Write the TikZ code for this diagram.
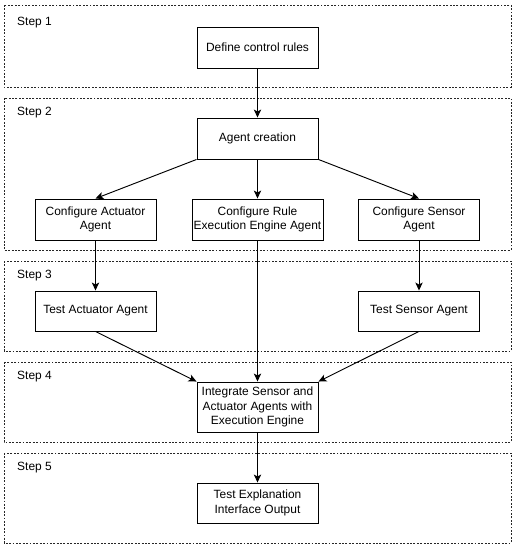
\documentclass[tikz,border=0pt]{standalone}
\usepackage{fontspec}
\setmainfont{Liberation Sans}
\usepackage{tikz}
\usetikzlibrary{arrows.meta}

\tikzset{
  etape/.style={draw,line width=0.8pt,fill=white,align=center,inner sep=0pt,
    minimum width=3.63cm,minimum height=1.23cm},
  cadre/.style={draw=black!85,line width=0.7pt,dash pattern=on 1.6pt off 1.3pt},
  fleche/.style={-{Stealth[length=2.4mm,width=2.2mm,inset=0.6mm]},line width=0.8pt},
  titre/.style={anchor=west,inner sep=0pt}
}

\begin{document}
\begin{tikzpicture}[x=0.03cm,y=-0.03cm,font=\fontsize{10.2}{12.6}\selectfont]
\useasboundingbox (0,0) rectangle (516,550);
% cadres des etapes
\draw[cadre] (4,5) rectangle (511,87);
\draw[cadre] (4,98) rectangle (511,250);
\draw[cadre] (4,261) rectangle (511,351);
\draw[cadre] (4,362) rectangle (511,442);
\draw[cadre] (4,453) rectangle (511,543);
\node[titre] (s1) at (17,23) {Step 1};
\node[titre] (s2) at (17,113) {Step 2};
\node[titre] (s3) at (17,276) {Step 3};
\node[titre] (s4) at (17,377) {Step 4};
\node[titre] (s5) at (17,468) {Step 5};
% boites
\node[etape] (regles) at (257.5,47.5) {Define control rules};
\node[etape] (creation) at (257.5,138.5) {Agent creation};
\node[etape] (cfgact) at (95.5,219.5) {Configure Actuator\\Agent};
\node[etape,minimum width=3.93cm] (cfgregle) at (257.5,219.5) {Configure Rule\\Execution Engine Agent};
\node[etape] (cfgcapt) at (419,219.5) {Configure Sensor\\Agent};
\node[etape,minimum height=1.2cm] (testact) at (95.5,311) {Test Actuator Agent};
\node[etape,minimum height=1.2cm] (testcapt) at (419,311) {Test Sensor Agent};
\node[etape,minimum height=1.5cm] (integ) at (257.5,407) {Integrate Sensor and\\Actuator Agents with\\Execution Engine};
\node[etape,minimum height=1.2cm] (expli) at (257.5,503) {Test Explanation\\Interface Output};
% liaisons
\draw[fleche] (regles) -- (creation);
\draw[fleche] (creation.south west) -- (cfgact.north);
\draw[fleche] (creation) -- (cfgregle);
\draw[fleche] (creation.south east) -- (cfgcapt.north);
\draw[fleche] (cfgact) -- (testact);
\draw[fleche] (cfgcapt) -- (testcapt);
\draw[fleche] (testact.south) -- (integ.north west);
\draw[fleche] (cfgregle) -- (integ);
\draw[fleche] (testcapt.south) -- (integ.north east);
\draw[fleche] (integ) -- (expli);
\end{tikzpicture}
\end{document}
